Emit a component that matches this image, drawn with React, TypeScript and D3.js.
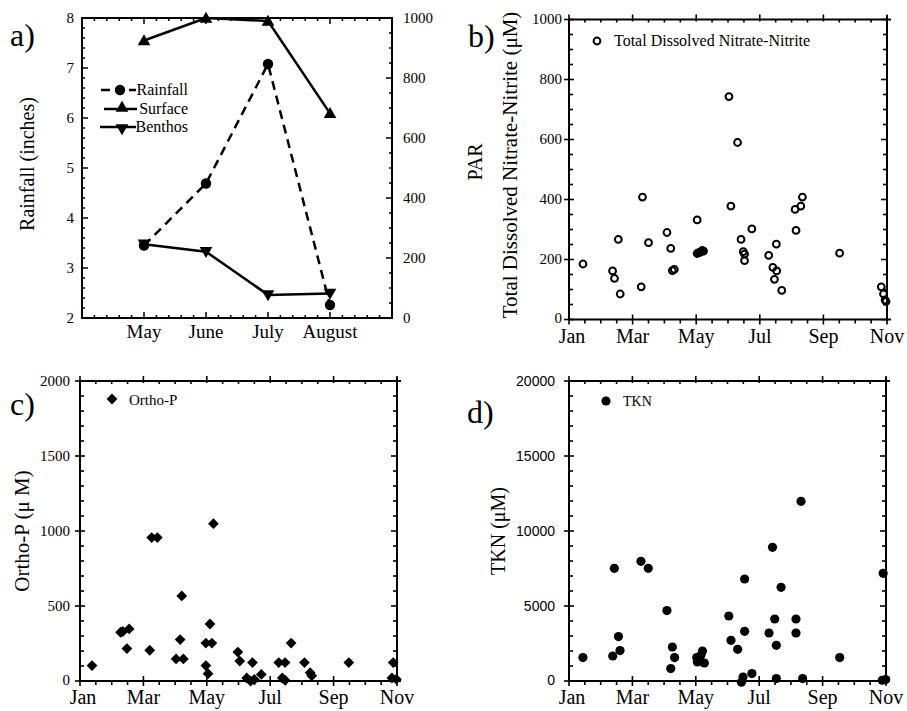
import React from 'react';
import * as d3 from 'd3';

const SERIF = '"Liberation Serif", "Times New Roman", serif';
const SANS = '"Liberation Sans", Arial, sans-serif';

// ---------- Panel a ----------
const seasonMonths = ['May', 'June', 'July', 'August'];
const rainfallInches = [3.45, 4.69, 7.08, 2.26];
const surfacePAR = [925, 1000, 990, 682];
const benthosPAR = [246, 221, 77, 82];
const rainfallTicks = [2, 3, 4, 5, 6, 7, 8];
const parTicks = [0, 200, 400, 600, 800, 1000];

// ---------- shared month axis ----------
const monthTickLabels = ['Jan', 'Mar', 'May', 'Jul', 'Sep', 'Nov'];
const monthTickValues = [0, 2, 4, 6, 8, 10];

// ---------- Panel b: Total Dissolved Nitrate-Nitrite ----------
const nitrateMonth = [0.44, 1.37, 1.43, 1.55, 1.61, 2.27, 2.31, 2.5, 3.08, 3.2, 3.25, 3.31, 4.03,
  4.03, 4.07, 4.11, 4.15, 4.19, 4.23,
  5.03, 5.09, 5.3, 5.41, 5.48, 5.52, 5.52, 5.75, 6.28, 6.41, 6.46, 6.53, 6.52, 6.69,
  7.11, 7.14, 7.29, 7.34, 8.51, 9.82, 9.89, 9.94, 9.97];
const nitrateValue = [185, 162, 137, 267, 85, 109, 408, 256, 290, 237, 163, 167, 332,
  220, 222, 224, 226, 230, 228,
  743, 378, 590, 267, 226, 218, 196, 302, 214, 174, 134, 162, 251, 97,
  367, 297, 378, 408, 221, 109, 85, 65, 60];
const nitrateTicks = [0, 200, 400, 600, 800, 1000];

// ---------- Panel c: Ortho-P ----------
const orthoMonth = [0.38, 1.28, 1.35, 1.55, 1.48, 2.2, 2.26, 2.44, 3.03, 3.26, 3.16, 3.21, 3.97, 4.16,
  3.97, 4.04, 4.1, 4.21, 4.98, 5.04, 5.26, 5.38, 5.5, 5.44, 5.72, 6.27, 6.38, 6.47, 6.47, 6.66,
  7.08, 7.26, 7.31, 8.48, 9.88, 9.84, 9.98];
const orthoValue = [103, 325, 330, 347, 216, 205, 956, 956, 147, 147, 276, 567, 253, 253,
  103, 49, 380, 1049, 193, 133, 20, 0, 10, 123, 44, 123, 20, 123, 5, 253,
  123, 55, 35, 123, 123, 20, 12];
const orthoTicks = [0, 500, 1000, 1500, 2000];

// ---------- Panel d: TKN ----------
const tknMonth = [0.44, 1.38, 1.43, 1.56, 1.61, 2.27, 2.5, 3.09, 3.21, 3.26, 3.33, 4.03, 4.05, 4.16,
  4.21, 4.27, 5.04, 5.11, 5.32, 5.44, 5.49, 5.54, 5.54, 5.77, 6.31, 6.42, 6.49, 6.54, 6.54, 6.69,
  7.16, 7.16, 7.32, 7.37, 8.54, 9.91, 9.88, 9.99];
const tknValue = [1560, 1667, 7513, 2960, 2027, 7980, 7513, 4693, 827, 2267, 1560, 1560, 1267, 1713,
  2000, 1200, 4333, 2713, 2113, -80, 267, 6800, 3313, 493, 3200, 8913, 4133, 2380, 160, 6247,
  4133, 3200, 11980, 160, 1560, 7180, 50, 100];
const tknTicks = [0, 5000, 10000, 15000, 20000];

const STROKE = '#000';

function PanelA() {
  const L = 82, R = 392, T = 18, B = 318;
  const x = d3.scaleLinear().domain([0, 5]).range([L, R]);
  const yL = d3.scaleLinear().domain([2, 8]).range([B, T]);
  const yR = d3.scaleLinear().domain([0, 1000]).range([B, T]);
  const idx = seasonMonths.map((_, i) => i + 1);
  const rainLine = d3.line<number>().x((d, i) => x(idx[i])).y(d => yL(d));
  const parLine = d3.line<number>().x((d, i) => x(idx[i])).y(d => yR(d));
  const tri = d3.symbol().type(d3.symbolTriangle).size(70)() as string;
  const circ = 5.2;

  const xMinor = d3.range(0, 5.0001, 0.2);
  const yMinorL = d3.range(2, 8.0001, 0.2);
  const yMinorR = d3.range(0, 1000.001, 50);

  return (
    <g>
      {xMinor.map((v, i) => {
        const major = Math.abs(v - Math.round(v)) < 1e-6;
        const len = major ? 6 : 3;
        return (
          <g key={'xt' + i}>
            <line x1={x(v)} x2={x(v)} y1={B} y2={B - len} stroke={STROKE} strokeWidth={1.5} />
            <line x1={x(v)} x2={x(v)} y1={T} y2={T + len} stroke={STROKE} strokeWidth={1.5} />
          </g>
        );
      })}
      {yMinorL.map((v, i) => {
        const major = Math.abs(v - Math.round(v)) < 1e-6;
        return <line key={'yl' + i} x1={L} x2={L + (major ? 6 : 3)} y1={yL(v)} y2={yL(v)} stroke={STROKE} strokeWidth={1.5} />;
      })}
      {yMinorR.map((v, i) => {
        const major = v % 200 === 0;
        return <line key={'yr' + i} x1={R} x2={R - (major ? 6 : 3)} y1={yR(v)} y2={yR(v)} stroke={STROKE} strokeWidth={1.5} />;
      })}
      <rect x={L} y={T} width={R - L} height={B - T} fill="none" stroke={STROKE} strokeWidth={2} />

      {rainfallTicks.map(v => (
        <text key={'lt' + v} x={L - 8} y={yL(v)} dy="0.33em" textAnchor="end" fontFamily={SERIF} fontSize={15}>{v}</text>
      ))}
      {parTicks.map(v => (
        <text key={'rt' + v} x={R + 11} y={yR(v)} dy="0.33em" textAnchor="start" fontFamily={SERIF} fontSize={15}>{v}</text>
      ))}
      {seasonMonths.map((m, i) => (
        <text key={'m' + m} x={x(idx[i])} y={B + 20} textAnchor="middle" fontFamily={SERIF} fontSize={19}>{m}</text>
      ))}

      <path d={rainLine(rainfallInches) as string} fill="none" stroke={STROKE} strokeWidth={2.5} strokeDasharray="9,6" />
      <path d={parLine(surfacePAR) as string} fill="none" stroke={STROKE} strokeWidth={2.5} />
      <path d={parLine(benthosPAR) as string} fill="none" stroke={STROKE} strokeWidth={2.5} />
      {rainfallInches.map((v, i) => <circle key={'rc' + i} cx={x(idx[i])} cy={yL(v)} r={circ} fill={STROKE} />)}
      {surfacePAR.map((v, i) => <path key={'sp' + i} d={tri} transform={`translate(${x(idx[i])},${yR(v) + 1})`} fill={STROKE} />)}
      {benthosPAR.map((v, i) => <path key={'bp' + i} d={tri} transform={`translate(${x(idx[i])},${yR(v) - 1}) rotate(180)`} fill={STROKE} />)}

      <line x1={101} x2={136} y1={90} y2={90} stroke={STROKE} strokeWidth={2.5} strokeDasharray="9,5" />
      <circle cx={120} cy={90} r={circ} fill={STROKE} />
      <text x={188} y={95} textAnchor="end" fontFamily={SERIF} fontSize={16}>Rainfall</text>
      <line x1={104} x2={137} y1={109} y2={109} stroke={STROKE} strokeWidth={2.5} />
      <path d={tri} transform="translate(122,108)" fill={STROKE} />
      <text x={188} y={114} textAnchor="end" fontFamily={SERIF} fontSize={16}>Surface</text>
      <line x1={100} x2={136} y1={127} y2={127} stroke={STROKE} strokeWidth={2.5} />
      <path d={tri} transform="translate(122,128) rotate(180)" fill={STROKE} />
      <text x={188} y={132} textAnchor="end" fontFamily={SERIF} fontSize={16}>Benthos</text>

      <text transform="translate(27,164) rotate(-90)" dy="0.35em" textAnchor="middle" fontFamily={SERIF} fontSize={20}>Rainfall (inches)</text>
      <text x={10} y={46} fontFamily={SERIF} fontSize={32}>a)</text>
    </g>
  );
}

type PanelProps = {
  L: number; R: number; T: number; B: number;
  yMax: number; yTicks: number[]; yMinorStep: number;
  tickFont: string; tickSize: number; tickLabelRight: number;
  children: (x: d3.ScaleLinear<number, number>, y: d3.ScaleLinear<number, number>) => React.ReactNode;
};

function MonthPanel({ L, R, T, B, yMax, yTicks, yMinorStep, tickFont, tickSize, tickLabelRight, children }: PanelProps) {
  const x = d3.scaleLinear().domain([0, 10]).range([L, R]);
  const y = d3.scaleLinear().domain([0, yMax]).range([B, T]);
  const xMinor = d3.range(0, 10.0001, 0.5);
  const yMinor = d3.range(0, yMax + 0.001, yMinorStep);
  const majorStepY = yTicks[1] - yTicks[0];
  return (
    <g>
      {xMinor.map((v, i) => {
        const major = Math.abs(v / 2 - Math.round(v / 2)) < 1e-6;
        return (
          <g key={'xt' + i}>
            {major ? (
              <line x1={x(v)} x2={x(v)} y1={B + 5} y2={B - 5} stroke={STROKE} strokeWidth={1.6} />
            ) : (
              <line x1={x(v)} x2={x(v)} y1={B} y2={B + 4} stroke={STROKE} strokeWidth={1.6} />
            )}
            {major ? (
              <line x1={x(v)} x2={x(v)} y1={T - 5} y2={T + 2} stroke={STROKE} strokeWidth={1.6} />
            ) : (
              <line x1={x(v)} x2={x(v)} y1={T} y2={T + 3} stroke={STROKE} strokeWidth={1.6} />
            )}
          </g>
        );
      })}
      {yMinor.map((v, i) => {
        const major = Math.abs(v / majorStepY - Math.round(v / majorStepY)) < 1e-6;
        return (
          <g key={'yt' + i}>
            {major ? (
              <line x1={L - 5} x2={L + 5} y1={y(v)} y2={y(v)} stroke={STROKE} strokeWidth={1.6} />
            ) : (
              <line x1={L} x2={L + 4} y1={y(v)} y2={y(v)} stroke={STROKE} strokeWidth={1.6} />
            )}
            <line x1={R} x2={R - (major ? 6 : 4)} y1={y(v)} y2={y(v)} stroke={STROKE} strokeWidth={1.6} />
          </g>
        );
      })}
      <line x1={L} x2={R + 4} y1={T} y2={T} stroke={STROKE} strokeWidth={2} />
      <line x1={L} x2={R + 4} y1={B} y2={B} stroke={STROKE} strokeWidth={2} />
      <line x1={L} x2={L} y1={T} y2={B} stroke={STROKE} strokeWidth={2} />
      <line x1={R} x2={R} y1={T - 4} y2={B + 2} stroke={STROKE} strokeWidth={2} />
      {yTicks.map(v => (
        <text key={'yl' + v} x={tickLabelRight} y={y(v) - (v === 0 ? 1 : 0)} dy="0.33em" textAnchor="end" fontFamily={tickFont} fontSize={tickSize}>{v}</text>
      ))}
      {monthTickValues.map((v, i) => (
        <text key={'ml' + v} x={x(v) + (i === 0 ? 3 : 0)} y={B + 23} textAnchor="middle" fontFamily={SERIF} fontSize={20}>{monthTickLabels[i]}</text>
      ))}
      {children(x, y)}
    </g>
  );
}

export default function App() {
  const square = d3.symbol().type(d3.symbolSquare).size(58)() as string;
  return (
    <svg width={907} height={711} style={{ position: 'absolute', left: 0, top: 0, background: '#fff' }}>
      <rect x={0} y={0} width={907} height={711} fill="#fff" />
      <PanelA />

      <MonthPanel L={569} R={887} T={19.5} B={319.5} yMax={1000} yTicks={nitrateTicks} yMinorStep={50}
        tickFont={SERIF} tickSize={15} tickLabelRight={562}>
        {(x, y) => (
          <g>
            {nitrateValue.map((v, i) => (
              <circle key={'n' + i} cx={x(nitrateMonth[i])} cy={y(v)} r={3.4} fill="none" stroke={STROKE} strokeWidth={2} />
            ))}
            <circle cx={597} cy={41} r={3.4} fill="none" stroke={STROKE} strokeWidth={2} />
            <text x={614} y={46} fontFamily={SERIF} fontSize={16}>Total Dissolved Nitrate-Nitrite</text>
          </g>
        )}
      </MonthPanel>
      <text transform="translate(475,162) rotate(-90)" dy="0.35em" textAnchor="middle" fontFamily={SERIF} fontSize={20}>PAR</text>
      <text transform="translate(510,165) rotate(-90)" dy="0.35em" textAnchor="middle" fontFamily={SERIF} fontSize={21}>Total Dissolved Nitrate-Nitrite (μM)</text>
      <text x={468} y={47} fontFamily={SERIF} fontSize={32}>b)</text>

      <MonthPanel L={80} R={397} T={381} B={681} yMax={2000} yTicks={orthoTicks} yMinorStep={100}
        tickFont={SERIF} tickSize={15} tickLabelRight={70}>
        {(x, y) => (
          <g>
            {orthoValue.map((v, i) => (
              <path key={'o' + i} d={square} transform={`translate(${x(orthoMonth[i])},${y(v)}) rotate(45)`} fill={STROKE} />
            ))}
            <path d={square} transform="translate(112,399) rotate(45)" fill={STROKE} />
            <text x={129} y={405} fontFamily={SERIF} fontSize={15}>Ortho-P</text>
          </g>
        )}
      </MonthPanel>
      <text transform="translate(22,531) rotate(-90)" dy="0.35em" textAnchor="middle" fontFamily={SERIF} fontSize={21}>Ortho-P (μ M)</text>
      <text x={10} y={415} fontFamily={SERIF} fontSize={32}>c)</text>

      <MonthPanel L={569} R={886} T={381} B={681} yMax={20000} yTicks={tknTicks} yMinorStep={1000}
        tickFont={SANS} tickSize={14} tickLabelRight={555}>
        {(x, y) => (
          <g>
            {tknValue.map((v, i) => (
              <circle key={'t' + i} cx={x(tknMonth[i])} cy={y(v)} r={4.6} fill={STROKE} />
            ))}
            <circle cx={606} cy={401} r={4.6} fill={STROKE} />
            <text x={623} y={406} fontFamily={SERIF} fontSize={14}>TKN</text>
          </g>
        )}
      </MonthPanel>
      <text transform="translate(498,531) rotate(-90)" dy="0.35em" textAnchor="middle" fontFamily={SERIF} fontSize={20}>TKN (μM)</text>
      <text x={467} y={423} fontFamily={SERIF} fontSize={32}>d)</text>
    </svg>
  );
}
